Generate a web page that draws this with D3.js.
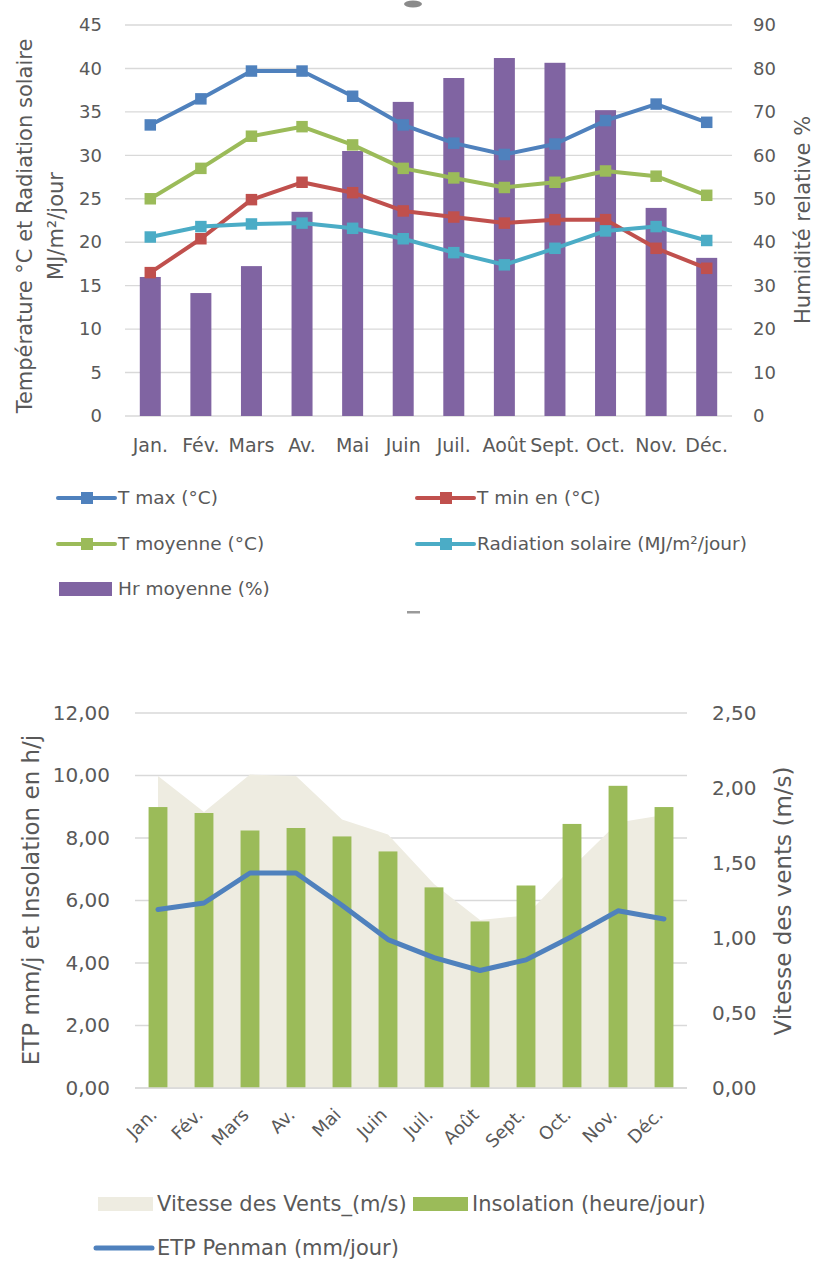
<!DOCTYPE html>
<html>
<head>
<meta charset="utf-8">
<script src="https://cdn.jsdelivr.net/npm/d3@7"></script>
<style>
  html, body { margin: 0; padding: 0; background: #ffffff; }
  svg { display: block; font-family: "DejaVu Sans", "Noto Sans", sans-serif; }
</style>
</head>
<body>
<svg id="chart" width="814" height="1263"></svg>
<script>
// ---------- Data ----------
const months = ["Jan.", "Fév.", "Mars", "Av.", "Mai", "Juin", "Juil.", "Août", "Sept.", "Oct.", "Nov.", "Déc."];

// Climate panel (°C, MJ/m²/jour on the left axis, % on the right axis)
const tMax      = [33.5, 36.5, 39.7, 39.7, 36.8, 33.5, 31.4, 30.1, 31.3, 34.0, 35.9, 33.8];
const tMin      = [16.5, 20.4, 24.9, 26.9, 25.7, 23.6, 22.9, 22.2, 22.6, 22.6, 19.3, 17.0];
const tMoy      = [25.0, 28.5, 32.2, 33.3, 31.2, 28.5, 27.4, 26.3, 26.9, 28.2, 27.6, 25.4];
const radiation = [20.6, 21.8, 22.1, 22.2, 21.6, 20.4, 18.8, 17.4, 19.3, 21.3, 21.8, 20.2];
const hrMoy     = [32.0, 28.3, 34.5, 47.0, 61.0, 72.3, 77.8, 82.4, 81.3, 70.4, 47.9, 36.4];

// Evapotranspiration panel (mm/j and h/j on the left axis, m/s on the right axis)
const insolation = [8.99, 8.80, 8.24, 8.32, 8.05, 7.57, 6.42, 5.33, 6.48, 8.45, 9.67, 8.99];
const etpPenman  = [5.71, 5.92, 6.88, 6.88, 5.85, 4.75, 4.17, 3.76, 4.10, 4.85, 5.67, 5.41];
const windSpeed  = [2.08, 1.84, 2.09, 2.08, 1.79, 1.69, 1.36, 1.12, 1.15, 1.47, 1.77, 1.82];

// Tick values
const tempTicks = [0, 5, 10, 15, 20, 25, 30, 35, 40, 45];
const humTicks  = [0, 10, 20, 30, 40, 50, 60, 70, 80, 90];
const etpTicks  = [0, 2, 4, 6, 8, 10, 12];
const windTicks = [0, 0.5, 1, 1.5, 2, 2.5];

// Series labels
const climateSeries = [
  { name: "T max (°C)",                     values: tMax,      color: "#4F81BD" },
  { name: "T min en (°C)",                  values: tMin,      color: "#C0504D" },
  { name: "T moyenne (°C)",                 values: tMoy,      color: "#9BBB59" },
  { name: "Radiation solaire (MJ/m²/jour)", values: radiation, color: "#4BACC6" }
];
const hrLabel   = "Hr moyenne (%)";
const windLabel = "Vitesse des Vents_(m/s)";
const insoLabel = "Insolation (heure/jour)";
const etpLabel  = "ETP Penman (mm/jour)";

// ---------- Styling ----------
const TEXT = "#595959";
const GRID = "#D9D9D9";
const HR_COLOR = "#8064A2";
const WIND_COLOR = "#EEECE1";
const INSO_COLOR = "#9BBB59";
const ETP_COLOR = "#4F81BD";

const frLocale = d3.formatLocale({ decimal: ",", thousands: "\u00a0", grouping: [3], currency: ["", " €"] });
const fmt2 = frLocale.format(".2f");

const svg = d3.select("#chart");

function styleAxis(g, size) {
  g.select(".domain").remove();
  g.selectAll("text")
    .attr("fill", TEXT)
    .style("font-size", size + "px")
    .style("font-family", "'DejaVu Sans', sans-serif");
}

function gridLines(parent, ticks, scale, x0, x1) {
  parent.append("g")
    .selectAll("line")
    .data(ticks)
    .join("line")
    .attr("x1", x0).attr("x2", x1)
    .attr("y1", d => scale(d)).attr("y2", d => scale(d))
    .attr("stroke", GRID)
    .attr("stroke-width", 1.4);
}

function rotatedTitle(parent, text, x, y, size) {
  parent.append("text")
    .attr("transform", `translate(${x},${y}) rotate(-90)`)
    .attr("text-anchor", "middle")
    .attr("dy", "0.35em")
    .attr("fill", TEXT)
    .style("font-size", size + "px")
    .text(text);
}

// ================= Panel A: températures, radiation, humidité =================
const pA = { left: 125, right: 732, top: 25, bottom: 416 };
const gA = svg.append("g");

const xA = d3.scaleBand().domain(months).range([pA.left, pA.right]);
const yTemp = d3.scaleLinear().domain([0, 45]).range([pA.bottom, pA.top]);
const yHum  = d3.scaleLinear().domain([0, 90]).range([pA.bottom, pA.top]);
const bwA = xA.bandwidth();
const cxA = m => xA(m) + bwA / 2;

gridLines(gA, tempTicks, yTemp, pA.left, pA.right);

// Humidity bars (secondary axis)
const barWA = bwA * 0.415;
gA.append("g")
  .selectAll("rect")
  .data(hrMoy)
  .join("rect")
  .attr("x", (d, i) => cxA(months[i]) - barWA / 2)
  .attr("width", barWA)
  .attr("y", d => yHum(d))
  .attr("height", d => yHum(0) - yHum(d))
  .attr("fill", HR_COLOR);

// Temperature / radiation lines with square markers
const lineA = d3.line().x((d, i) => cxA(months[i])).y(d => yTemp(d));
const squareMarker = d3.symbol().type(d3.symbolSquare).size(132);
climateSeries.forEach(s => {
  const g = gA.append("g");
  g.append("path")
    .datum(s.values)
    .attr("d", lineA)
    .attr("fill", "none")
    .attr("stroke", s.color)
    .attr("stroke-width", 4)
    .attr("stroke-linejoin", "round")
    .attr("stroke-linecap", "round");
  g.selectAll("path.mk")
    .data(s.values)
    .join("path")
    .attr("class", "mk")
    .attr("d", squareMarker)
    .attr("transform", (d, i) => `translate(${cxA(months[i])},${yTemp(d)})`)
    .attr("fill", s.color);
});

// Axes
gA.append("g")
  .attr("transform", `translate(${pA.left},0)`)
  .call(d3.axisLeft(yTemp).tickValues(tempTicks).tickSize(0).tickPadding(23))
  .call(g => styleAxis(g, 18));

gA.append("g")
  .attr("transform", `translate(${pA.right},0)`)
  .call(d3.axisRight(yHum).tickValues(humTicks).tickSize(0).tickPadding(21))
  .call(g => styleAxis(g, 18));

gA.append("g")
  .attr("transform", `translate(0,${pA.bottom})`)
  .call(d3.axisBottom(xA).tickSize(0).tickPadding(23))
  .call(g => styleAxis(g, 19));

// Axis titles
rotatedTitle(gA, "Température °C et Radiation solaire", 25, 226, 21);
rotatedTitle(gA, "MJ/m²/jour", 56, 226, 21);
rotatedTitle(gA, "Humidité relative %", 803, 220, 21);

// Legend
const legA = gA.append("g").style("font-size", "18.5px");
const legPosA = [
  { x: 58,  y: 498 },
  { x: 417, y: 498 },
  { x: 58,  y: 544 },
  { x: 417, y: 544 }
];
climateSeries.forEach((s, i) => {
  const p = legPosA[i];
  legA.append("line")
    .attr("x1", p.x).attr("x2", p.x + 57)
    .attr("y1", p.y).attr("y2", p.y)
    .attr("stroke", s.color).attr("stroke-width", 4).attr("stroke-linecap", "round");
  legA.append("rect")
    .attr("x", p.x + 23).attr("y", p.y - 6)
    .attr("width", 12).attr("height", 12)
    .attr("fill", s.color);
  legA.append("text")
    .attr("x", p.x + 60).attr("y", p.y)
    .attr("dy", "0.35em")
    .attr("fill", TEXT)
    .text(s.name);
});
legA.append("rect")
  .attr("x", 59).attr("y", 582)
  .attr("width", 53).attr("height", 14)
  .attr("fill", HR_COLOR);
legA.append("text")
  .attr("x", 118).attr("y", 589)
  .attr("dy", "0.35em")
  .attr("fill", TEXT)
  .text(hrLabel);

// small frame handles of the chart objects
svg.append("ellipse").attr("cx", 413).attr("cy", 4).attr("rx", 9).attr("ry", 3.5).attr("fill", "#8a8a8a");
svg.append("rect").attr("x", 407).attr("y", 611).attr("width", 13).attr("height", 2.5).attr("fill", "#9a9a9a");

// ================= Panel B: ETP, insolation, vent =================
const pB = { left: 135, right: 687, top: 713, bottom: 1088 };
const gB = svg.append("g");

const xB = d3.scaleBand().domain(months).range([pB.left, pB.right]);
const yEtp  = d3.scaleLinear().domain([0, 12]).range([pB.bottom, pB.top]);
const yWind = d3.scaleLinear().domain([0, 2.5]).range([pB.bottom, pB.top]);
const bwB = xB.bandwidth();
const cxB = m => xB(m) + bwB / 2;

gridLines(gB, etpTicks, yEtp, pB.left, pB.right);

// Wind speed area (secondary axis)
const windArea = d3.area()
  .x((d, i) => cxB(months[i]))
  .y0(yWind(0))
  .y1(d => yWind(d));
gB.append("path")
  .datum(windSpeed)
  .attr("d", windArea)
  .attr("fill", WIND_COLOR);

// Insolation bars
const barWB = bwB * 0.41;
gB.append("g")
  .selectAll("rect")
  .data(insolation)
  .join("rect")
  .attr("x", (d, i) => cxB(months[i]) - barWB / 2)
  .attr("width", barWB)
  .attr("y", d => yEtp(d))
  .attr("height", d => yEtp(0) - yEtp(d))
  .attr("fill", INSO_COLOR);

// Axis line along zero
gB.append("line")
  .attr("x1", pB.left).attr("x2", pB.right)
  .attr("y1", yEtp(0)).attr("y2", yEtp(0))
  .attr("stroke", GRID).attr("stroke-width", 1.4);

// ETP line
const lineB = d3.line().x((d, i) => cxB(months[i])).y(d => yEtp(d));
gB.append("path")
  .datum(etpPenman)
  .attr("d", lineB)
  .attr("fill", "none")
  .attr("stroke", ETP_COLOR)
  .attr("stroke-width", 5)
  .attr("stroke-linejoin", "round")
  .attr("stroke-linecap", "round");

// Axes
gB.append("g")
  .attr("transform", `translate(${pB.left},0)`)
  .call(d3.axisLeft(yEtp).tickValues(etpTicks).tickSize(0).tickPadding(25).tickFormat(fmt2))
  .call(g => styleAxis(g, 20));

gB.append("g")
  .attr("transform", `translate(${pB.right},0)`)
  .call(d3.axisRight(yWind).tickValues(windTicks).tickSize(0).tickPadding(25).tickFormat(fmt2))
  .call(g => styleAxis(g, 20));

gB.append("g")
  .attr("transform", `translate(0,${pB.bottom})`)
  .call(d3.axisBottom(xB).tickSize(0))
  .call(g => styleAxis(g, 18))
  .call(g => g.selectAll("text")
    .attr("y", 0).attr("dy", 0)
    .attr("text-anchor", "end")
    .attr("transform", "translate(0,28) rotate(-45)"));

// Axis titles
rotatedTitle(gB, "ETP mm/j et Insolation en h/j", 31, 900, 23);
rotatedTitle(gB, "Vitesse des vents (m/s)", 783, 901, 23);

// Legend
const legB = gB.append("g").style("font-size", "21px");
legB.append("rect").attr("x", 98).attr("y", 1197).attr("width", 55).attr("height", 14).attr("fill", WIND_COLOR);
legB.append("text").attr("x", 157).attr("y", 1204).attr("dy", "0.35em").attr("fill", TEXT).text(windLabel);
legB.append("rect").attr("x", 413).attr("y", 1197).attr("width", 55).attr("height", 14).attr("fill", INSO_COLOR);
legB.append("text").attr("x", 472).attr("y", 1204).attr("dy", "0.35em").attr("fill", TEXT).text(insoLabel);
legB.append("line").attr("x1", 96).attr("x2", 152).attr("y1", 1248).attr("y2", 1248)
  .attr("stroke", ETP_COLOR).attr("stroke-width", 5).attr("stroke-linecap", "round");
legB.append("text").attr("x", 157).attr("y", 1248).attr("dy", "0.35em").attr("fill", TEXT).text(etpLabel);
</script>
</body>
</html>
